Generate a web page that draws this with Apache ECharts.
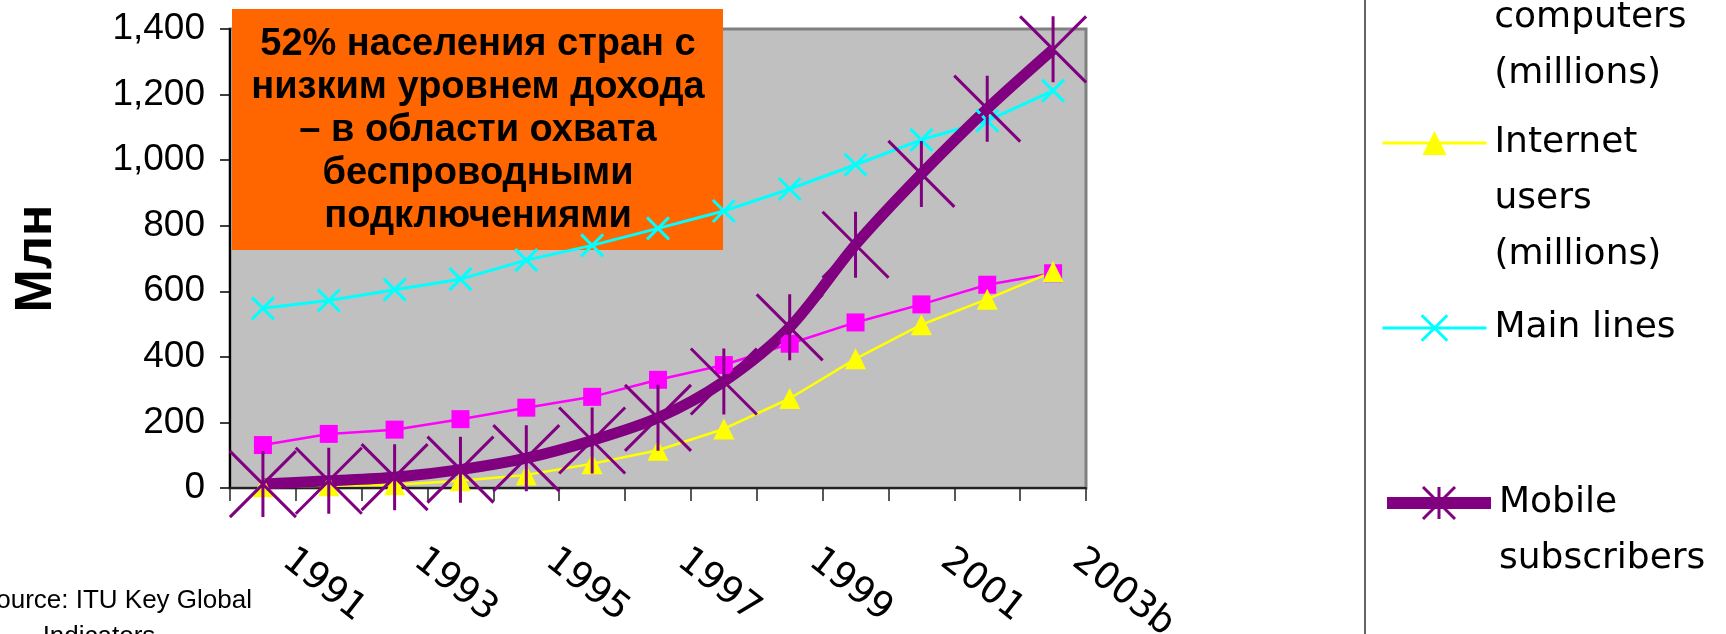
<!DOCTYPE html>
<html>
<head>
<meta charset="utf-8">
<script src="https://cdn.jsdelivr.net/npm/echarts@6/dist/echarts.min.js"></script>
<style>
  html, body { margin: 0; padding: 0; background: #fff; }
  #chart { width: 1726px; height: 634px; }
</style>
</head>
<body>
<div id="chart"></div>
<script>
// data (millions)
var years = ['1991', '1992', '1993', '1994', '1995', '1996', '1997', '1998', '1999', '2000', '2001', '2002', '2003b'];
var pcs = [131, 165, 178, 210, 245, 278, 330, 375, 440, 505, 560, 620, 655];
var internet = [4, 7, 10, 22, 40, 74, 115, 180, 273, 394, 498, 576, 660];
var mainLines = [548, 572, 605, 637, 695, 740, 792, 845, 912, 986, 1062, 1120, 1212];
var mobile = [12, 22, 33, 56, 91, 145, 214, 325, 490, 742, 958, 1157, 1338];

var boxLines = [
    '52% населения стран с',
    'низким уровнем дохода',
    '– в области охвата',
    'беспроводными',
    'подключениями'
];

var crossPath = 'path://M0,0L20,20M20,0L0,20';
var starPath = 'path://M0,0L20,20M20,0L0,20M10,0L10,20';

var LEGEND_LH = 56;

var chart = echarts.init(document.getElementById('chart'));

// legend text is centred on the icon, so blank lines in front keep
// the first line level with the icon; y is where that first line sits
function legendFor(name, y, itemHeight, lineWidth, lines) {
    var label = lines.join('\n');
    for (var i = 1; i < lines.length; i++) {
        label = '\n' + label;
    }
    var half = (2 * lines.length - 1) * LEGEND_LH / 2;
    return {
        data: [name],
        orient: 'vertical',
        left: 1381,
        top: y - half,
        padding: 0,
        itemWidth: 104,
        itemHeight: itemHeight,
        selectedMode: false,
        lineStyle: {width: lineWidth},
        itemStyle: {borderWidth: 3},
        formatter: function () { return label; },
        textStyle: {
            fontFamily: 'DejaVu Sans',
            fontSize: 36,
            color: '#000',
            lineHeight: LEGEND_LH,
            padding: [0, 0, 0, 3]
        }
    };
}

var option = {
    backgroundColor: '#fff',
    animation: false,
    grid: {
        left: 230, top: 29, width: 856, height: 459,
        outerBoundsMode: 'none',
        show: true,
        backgroundColor: '#c0c0c0',
        borderColor: '#808080',
        borderWidth: 3
    },
    legend: [
        legendFor('Personal computers (millions)', -38, 26, 2.5, ['Personal', 'computers', '(millions)']),
        legendFor('Internet users (millions)', 143, 30, 3, ['Internet', 'users', '(millions)']),
        legendFor('Main lines', 328, 32, 3, ['Main lines']),
        legendFor('Mobile subscribers', 503, 40, 12, ['Mobile', 'subscribers'])
    ],
    xAxis: {
        type: 'category',
        data: years,
        boundaryGap: true,
        axisLine: {lineStyle: {color: '#222', width: 2}},
        axisTick: {show: true, interval: 0, length: 13, lineStyle: {color: '#222', width: 1.5}},
        axisLabel: {
            interval: 1,
            rotate: -38,
            margin: 50,
            padding: [0, 0, 0, 30],
            fontSize: 37,
            fontFamily: 'DejaVu Sans',
            color: '#000'
        },
        splitLine: {show: false}
    },
    yAxis: {
        type: 'value',
        min: 0,
        max: 1400,
        interval: 200,
        name: 'Млн',
        nameLocation: 'middle',
        nameGap: 167,
        nameTextStyle: {fontSize: 52, fontWeight: 'bold', fontFamily: 'Liberation Sans', color: '#000'},
        axisLine: {show: true, lineStyle: {color: '#000', width: 2}},
        axisTick: {show: true, length: 10, lineStyle: {color: '#000', width: 1.5}},
        axisLabel: {
            margin: 25,
            fontSize: 37,
            fontFamily: 'Liberation Sans',
            color: '#000',
            formatter: function (v) { return v.toLocaleString('en-US'); }
        },
        splitLine: {show: false}
    },
    series: [
        {
            name: 'Personal computers (millions)',
            type: 'line',
            data: pcs,
            symbol: 'rect',
            symbolSize: 18,
            showAllSymbol: true,
            lineStyle: {color: '#ff00ff', width: 2.5},
            itemStyle: {color: '#ff00ff'}
        },
        {
            name: 'Internet users (millions)',
            type: 'line',
            data: internet,
            symbol: 'triangle',
            symbolSize: 21,
            showAllSymbol: true,
            lineStyle: {color: '#ffff00', width: 2.5},
            itemStyle: {color: '#ffff00'}
        },
        {
            name: 'Main lines',
            type: 'line',
            data: mainLines,
            symbol: crossPath,
            symbolSize: 22,
            showAllSymbol: true,
            lineStyle: {color: '#00ffff', width: 3},
            itemStyle: {color: '#00ffff', borderColor: '#00ffff', borderWidth: 3}
        },
        {
            name: 'Mobile subscribers',
            type: 'line',
            data: mobile,
            smooth: 0.3,
            symbol: starPath,
            symbolSize: 66,
            showAllSymbol: true,
            lineStyle: {color: '#800080', width: 11},
            itemStyle: {color: '#800080', borderColor: '#800080', borderWidth: 3}
        }
    ],
    graphic: [
        {
            type: 'group',
            z: 100,
            children: [
                {
                    type: 'rect',
                    shape: {x: 232, y: 9, width: 491, height: 241},
                    style: {fill: '#ff6600'}
                },
                {
                    type: 'text',
                    x: 478, y: 131,
                    style: {
                        text: boxLines.join('\n'),
                        font: 'bold 38px "Liberation Sans"',
                        fill: '#000',
                        align: 'center',
                        verticalAlign: 'middle',
                        lineHeight: 43
                    }
                }
            ]
        },
        {
            type: 'line',
            z: 100,
            shape: {x1: 1365, y1: 0, x2: 1365, y2: 634},
            style: {stroke: '#666', lineWidth: 2}
        },
        {
            type: 'text',
            z: 100,
            x: 252, y: 601,
            style: {
                text: 'Source: ITU Key Global',
                font: '26px "Liberation Sans"',
                fill: '#000',
                align: 'right',
                verticalAlign: 'middle'
            }
        },
        {
            type: 'text',
            z: 100,
            x: 99, y: 637,
            style: {
                text: 'Indicators',
                font: '26px "Liberation Sans"',
                fill: '#000',
                align: 'center',
                verticalAlign: 'middle'
            }
        }
    ]
};

chart.setOption(option);
</script>
</body>
</html>
